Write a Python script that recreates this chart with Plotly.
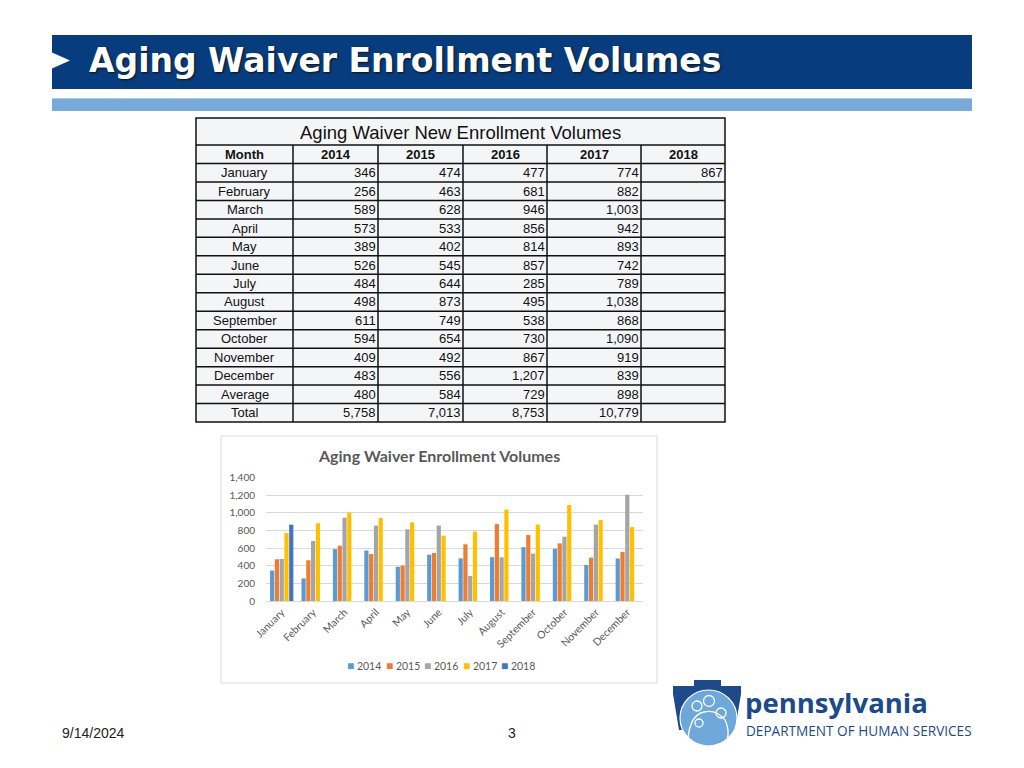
import plotly.graph_objects as go

# ---------------- data ----------------
months = ["January", "February", "March", "April", "May", "June", "July",
          "August", "September", "October", "November", "December"]
years = ["2014", "2015", "2016", "2017", "2018"]
v2014 = [346, 256, 589, 573, 389, 526, 484, 498, 611, 594, 409, 483]
v2015 = [474, 463, 628, 533, 402, 545, 644, 873, 749, 654, 492, 556]
v2016 = [477, 681, 946, 856, 814, 857, 285, 495, 538, 730, 867, 1207]
v2017 = [774, 882, 1003, 942, 893, 742, 789, 1038, 868, 1090, 919, 839]
v2018 = [867, None, None, None, None, None, None, None, None, None, None, None]
averages = [480, 584, 729, 898, None]
totals = [5758, 7013, 8753, 10779, None]
colors = ["#5B9BD5", "#ED7D31", "#A5A5A5", "#FFC000", "#4472C4"]

slide_title = "Aging Waiver Enrollment Volumes"
table_title = "Aging Waiver New Enrollment Volumes"
chart_title = "Aging Waiver Enrollment Volumes"
date_text = "9/14/2024"
page_no = "3"

# the page body has an 8px margin: size the figure to fit the window
OFF = 8
W, H = 1024 - OFF, 768 - OFF
def X(px):
    return (px - OFF) / W
def Y(py):
    return 1 - (py - OFF) / H

series = [v2014, v2015, v2016, v2017, v2018]

fig = go.Figure()
for yr, vals, col in zip(years, series, colors):
    fig.add_trace(go.Bar(x=months, y=vals, name=yr, marker_color=col,
                         marker_line_width=0, showlegend=False))

shapes = []
ann = []

def text(px, py, s, font, xa="center", ya="middle"):
    ann.append(dict(x=X(px), y=Y(py), xref="paper", yref="paper", xanchor=xa,
                    yanchor=ya, showarrow=False, text=s, font=font))

# ---------------- slide header ----------------
shapes.append(dict(type="rect", xref="paper", yref="paper", x0=X(52), x1=X(972),
                   y0=Y(89), y1=Y(35), fillcolor="#073C7E", line_width=0, layer="below"))
shapes.append(dict(type="path", xref="paper", yref="paper",
                   path=f"M {X(52)} {Y(52.5)} L {X(70)} {Y(60.5)} L {X(52)} {Y(68.5)} Z",
                   fillcolor="white", line_width=0))
shapes.append(dict(type="rect", xref="paper", yref="paper", x0=X(52), x1=X(972),
                   y0=Y(111), y1=Y(98), fillcolor="#78A9DB", line_width=0, layer="below"))
shapes.append(dict(type="line", xref="paper", yref="paper", x0=X(52), x1=X(972),
                   y0=Y(98.5), y1=Y(98.5), line=dict(color="#A9CBEC", width=1)))
text(87, 61, f"<b>{slide_title}</b>",
     dict(family="DejaVu Sans", size=33, color="white", shadow="1px 1px 2px #111111"),
     xa="left")

# ---------------- table ----------------
tx0, tx1 = 196, 725
col_edges = [196, 293, 378, 463, 547, 641, 725]
ty_title0, ty_head0 = 118, 145
row_h = 18.47
n_rows = 14
ty_end = ty_head0 + row_h * (n_rows + 1)
shapes.append(dict(type="rect", xref="paper", yref="paper", x0=X(tx0), x1=X(tx1),
                   y0=Y(ty_end), y1=Y(ty_title0), fillcolor="#F3F5F6",
                   line=dict(color="#111111", width=1.5), layer="below"))
for i in range(n_rows + 1):
    yy = ty_head0 + row_h * i
    shapes.append(dict(type="line", xref="paper", yref="paper", x0=X(tx0), x1=X(tx1),
                       y0=Y(yy), y1=Y(yy), line=dict(color="#111111", width=1.5)))
for xe in col_edges[1:-1]:
    shapes.append(dict(type="line", xref="paper", yref="paper", x0=X(xe), x1=X(xe),
                       y0=Y(ty_head0), y1=Y(ty_end), line=dict(color="#111111", width=1.5)))

tfont = dict(family="Liberation Sans", size=13, color="#111111")
text((tx0 + tx1) / 2, (ty_title0 + ty_head0) / 2 + 1, table_title,
     dict(family="Liberation Sans", size=18.5, color="#111111"))
headers = ["Month"] + years
for j, h in enumerate(headers):
    text((col_edges[j] + col_edges[j + 1]) / 2, ty_head0 + row_h / 2, f"<b>{h}</b>", tfont)

row_labels = months + ["Average", "Total"]
for i, lab in enumerate(row_labels):
    yc = ty_head0 + row_h * (i + 1.5)
    text((col_edges[0] + col_edges[1]) / 2, yc, lab, tfont)
    for j in range(5):
        if i < 12:
            v = series[j][i]
        elif i == 12:
            v = averages[j]
        else:
            v = totals[j]
        if v is None:
            continue
        text(col_edges[j + 2] - 0.5, yc, f"{v:,}", tfont, xa="right")

# ---------------- chart frame ----------------
shapes.append(dict(type="rect", xref="paper", yref="paper", x0=X(221), x1=X(657),
                   y0=Y(683), y1=Y(436), fillcolor="white",
                   line=dict(color="#D9D9D9", width=1), layer="below"))
text(439, 455, f"<b>{chart_title}</b>", dict(family="Lato", size=16, color="#595959"))

axis_font = dict(family="Lato", size=10, color="#595959")
xaxis_font = dict(family="Lato", size=10.5, color="#595959")
# legend entries (colored squares + year) centred under the chart
leg_step = 38.5
for k, (yr, col) in enumerate(zip(years, colors)):
    cx = 441 + (k - (len(years) - 1) / 2) * leg_step
    text(cx, 665, f"<span style='color:{col};font-size:12px'>■</span> {yr}",
         dict(family="Lato", size=10.5, color="#595959"))

# ---------------- footer ----------------
text(60, 733, date_text, dict(family="Liberation Sans", size=14, color="#222222"), xa="left")
text(512, 733, page_no, dict(family="Liberation Sans", size=14, color="#222222"))

# ---------------- logo ----------------
dk = "#1C4A8B"
shapes.append(dict(type="path", xref="paper", yref="paper",
                   path=(f"M {X(673)} {Y(686)} L {X(694)} {Y(686)} L {X(694)} {Y(680)} "
                         f"L {X(721)} {Y(680)} L {X(721)} {Y(686)} L {X(741)} {Y(686)} "
                         f"L {X(741)} {Y(694)} L {X(735)} {Y(730)} L {X(679)} {Y(730)} "
                         f"L {X(673)} {Y(694)} Z"),
                   fillcolor=dk, line_width=0))
shapes.append(dict(type="circle", xref="paper", yref="paper", x0=X(680), x1=X(737),
                   y0=Y(746), y1=Y(690), fillcolor="#6EA8DB",
                   line=dict(color="white", width=1.2)))
for cx, cy, r in [(697, 706, 5), (709, 701, 5.5), (721, 713, 5), (699, 723, 4)]:
    shapes.append(dict(type="circle", xref="paper", yref="paper", x0=X(cx - r), x1=X(cx + r),
                       y0=Y(cy + r), y1=Y(cy - r), line=dict(color="white", width=1.3)))
shapes.append(dict(type="path", xref="paper", yref="paper",
                   path=(f"M {X(688)} {Y(739)} Q {X(690)} {Y(715)} {X(704)} {Y(712)} "
                         f"Q {X(716)} {Y(709)} {X(725)} {Y(720)} Q {X(730)} {Y(730)} {X(727)} {Y(741)}"),
                   line=dict(color="white", width=1.3)))
text(743, 702, "<b>pennsylvania</b>", dict(family="Open Sans", size=27.5, color=dk), xa="left")
text(744, 730, "DEPARTMENT OF HUMAN SERVICES", dict(family="Open Sans", size=13.6, color=dk),
     xa="left")

fig.update_layout(
    width=W, height=H,
    margin=dict(l=0, r=0, t=0, b=0, autoexpand=False),
    paper_bgcolor="white", plot_bgcolor="rgba(0,0,0,0)",
    barmode="group", bargap=0.24, bargroupgap=0.12,
    shapes=shapes, annotations=ann,
    showlegend=False,
    xaxis=dict(domain=[X(266), X(643)], anchor="y", tickangle=-45, tickfont=xaxis_font,
               showgrid=False, showline=True, linecolor="#D9D9D9", linewidth=1,
               ticks="", fixedrange=True, automargin=False),
    yaxis=dict(domain=[Y(601), Y(477.7)], anchor="x", range=[0, 1400], dtick=200,
               tickformat=",", tickfont=axis_font, showgrid=True, gridcolor="#D9D9D9",
               gridwidth=1, zeroline=False, showline=False, ticks="",
               ticklabelstandoff=10, fixedrange=True, automargin=False),
    font=dict(family="Liberation Sans"),
)

fig.write_html("out.html")
